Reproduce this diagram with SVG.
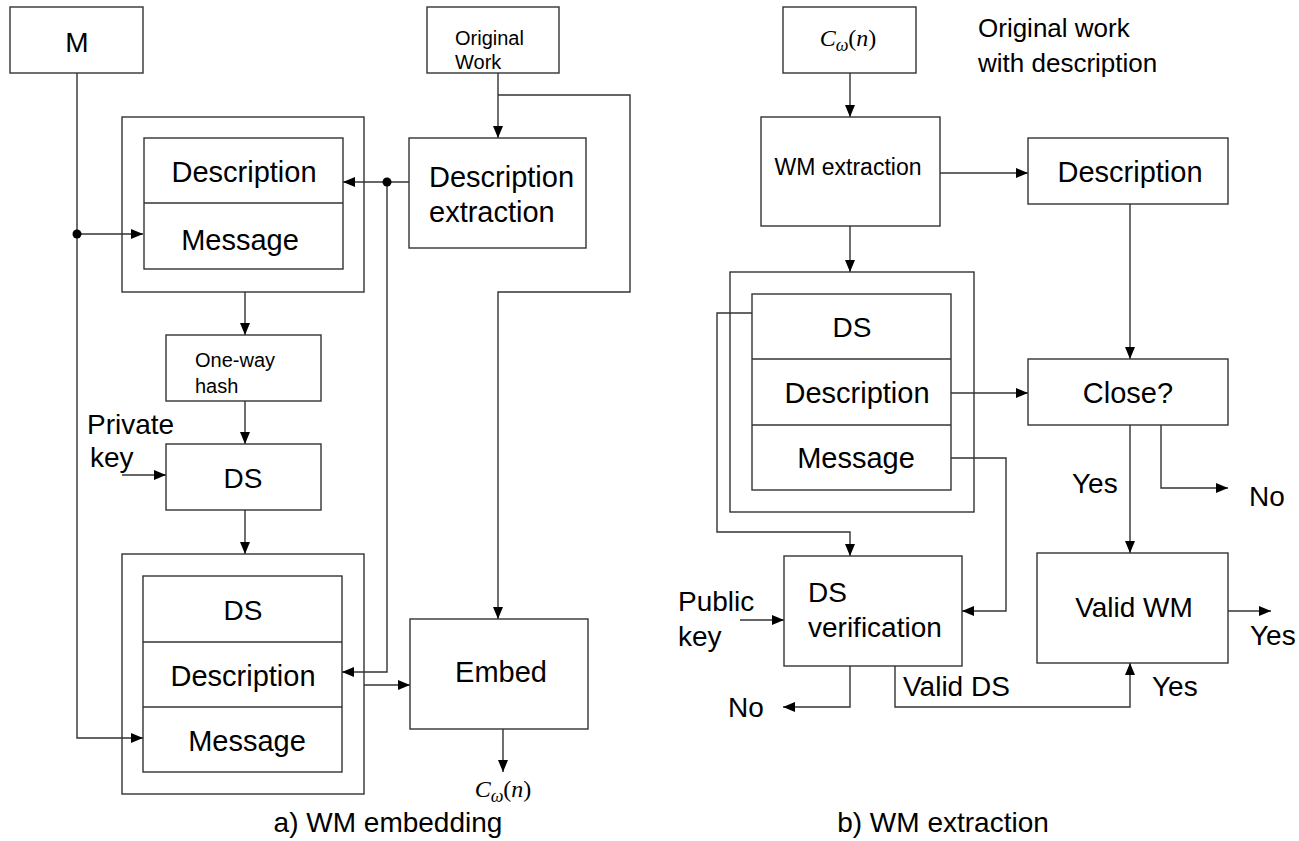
<svg xmlns="http://www.w3.org/2000/svg" width="1299" height="841" viewBox="0 0 1299 841">
<defs>
<marker id="ah" viewBox="0 0 12 10" refX="12" refY="5" markerWidth="12" markerHeight="10" markerUnits="userSpaceOnUse" orient="auto">
<path d="M0,0 L12,5 L0,10 Z" fill="#000"/>
</marker>
<style>
.b{fill:#fff;stroke:#333;stroke-width:1.4}
.c{fill:none;stroke:#333;stroke-width:1.4}
.t{font-family:"Liberation Sans",Arial,sans-serif;fill:#000}
.m{font-family:"Liberation Serif","Times New Roman",serif;fill:#000;font-size:24px}
.a{marker-end:url(#ah)}
</style>
</defs>
<rect width="1299" height="841" fill="#fff"/>

<!-- connectors -->
<g id="connectors">
<path class="c a" d="M77,73 V738 H143"/>
<path class="c a" d="M77,234 H143"/>
<circle cx="77" cy="234" r="4.5" fill="#000"/>
<path class="c a" d="M498,73 V138"/>
<path class="c a" d="M498,95 H630 V292 H498 V619"/>
<path class="c a" d="M409,182 H343"/>
<path class="c a" d="M387,182 V672 H342"/>
<circle cx="387" cy="182" r="4.5" fill="#000"/>
<path class="c a" d="M245,292 V335"/>
<path class="c a" d="M245,401 V444"/>
<path class="c a" d="M245,510 V554"/>
<path class="c a" d="M122,475 H166"/>
<path class="c a" d="M364,685 H410"/>
<path class="c a" d="M503,729 V772"/>

<path class="c a" d="M850,73 V117"/>
<path class="c a" d="M940,173 H1028"/>
<path class="c a" d="M850,226 V272"/>
<path class="c a" d="M1130,204 V359"/>
<path class="c a" d="M752,313 H717 V532 H850 V556"/>
<path class="c a" d="M951,393 H1028"/>
<path class="c a" d="M951,458 H1006 V611 H962"/>
<path class="c a" d="M1130,425 V553"/>
<path class="c a" d="M1161,425 V488 H1228"/>
<path class="c a" d="M740,620 H784"/>
<path class="c a" d="M850,666 V707 H783"/>
<path class="c a" d="M895,666 V707 H1130 V663"/>
<path class="c a" d="M1228,611 H1271"/>
</g>

<!-- left panel nodes -->
<g id="M">
<rect class="b" x="10" y="7" width="133" height="66"/>
<text class="t" x="77" y="52" font-size="28" text-anchor="middle">M</text>
</g>
<g id="original-work">
<rect class="b" x="427" y="7" width="132" height="66"/>
<text class="t" x="455" y="45" font-size="20">Original</text>
<text class="t" x="455" y="69" font-size="20">Work</text>
</g>
<g id="desc-extraction">
<rect class="b" x="409" y="138" width="177" height="110"/>
<text class="t" x="429" y="187" font-size="29">Description</text>
<text class="t" x="429" y="222" font-size="29">extraction</text>
</g>
<g id="group-top">
<rect class="c" x="122" y="117" width="242" height="175"/>
<rect class="b" x="144" y="138" width="199" height="131"/>
<line class="c" x1="144" y1="203" x2="343" y2="203"/>
<text class="t" x="244" y="182" font-size="29" text-anchor="middle">Description</text>
<text class="t" x="240" y="250" font-size="29" text-anchor="middle">Message</text>
</g>
<g id="one-way-hash">
<rect class="b" x="166" y="335" width="155" height="66"/>
<text class="t" x="195" y="367" font-size="20">One-way</text>
<text class="t" x="195" y="393" font-size="20">hash</text>
</g>
<g id="private-key">
<text class="t" x="87" y="434" font-size="28">Private</text>
<text class="t" x="90" y="467" font-size="28">key</text>
</g>
<g id="DS-left">
<rect class="b" x="166" y="444" width="155" height="66"/>
<text class="t" x="243" y="488" font-size="28" text-anchor="middle">DS</text>
</g>
<g id="group-bottom">
<rect class="c" x="122" y="554" width="242" height="240"/>
<rect class="b" x="143" y="576" width="199" height="196"/>
<line class="c" x1="143" y1="642" x2="342" y2="642"/>
<line class="c" x1="143" y1="707" x2="342" y2="707"/>
<text class="t" x="243" y="620" font-size="28" text-anchor="middle">DS</text>
<text class="t" x="243" y="686" font-size="29" text-anchor="middle">Description</text>
<text class="t" x="247" y="751" font-size="29" text-anchor="middle">Message</text>
</g>
<g id="embed">
<rect class="b" x="410" y="619" width="178" height="110"/>
<text class="t" x="501" y="682" font-size="29" text-anchor="middle">Embed</text>
</g>
<g id="cw-out">
<text class="m" x="503" y="797" text-anchor="middle"><tspan font-style="italic">C</tspan><tspan font-style="italic" font-size="18" dy="5">ω</tspan><tspan dy="-5">(</tspan><tspan font-style="italic">n</tspan>)</text>
</g>
<text class="t" x="388" y="832" font-size="28" text-anchor="middle">a) WM embedding</text>

<!-- right panel nodes -->
<g id="cw-in">
<rect class="b" x="783" y="7" width="133" height="66"/>
<text class="m" x="848" y="46" text-anchor="middle"><tspan font-style="italic">C</tspan><tspan font-style="italic" font-size="18" dy="5">ω</tspan><tspan dy="-5">(</tspan><tspan font-style="italic">n</tspan>)</text>
</g>
<g id="orig-desc-label">
<text class="t" x="978" y="37" font-size="26">Original work</text>
<text class="t" x="978" y="72" font-size="26">with description</text>
</g>
<g id="wm-extraction">
<rect class="b" x="761" y="117" width="179" height="109"/>
<text class="t" x="848" y="175" font-size="23" text-anchor="middle">WM extraction</text>
</g>
<g id="description-r">
<rect class="b" x="1028" y="138" width="200" height="66"/>
<text class="t" x="1130" y="182" font-size="29" text-anchor="middle">Description</text>
</g>
<g id="group-r">
<rect class="c" x="730" y="272" width="244" height="240"/>
<rect class="b" x="752" y="294" width="199" height="196"/>
<line class="c" x1="752" y1="359" x2="951" y2="359"/>
<line class="c" x1="752" y1="425" x2="951" y2="425"/>
<text class="t" x="852" y="337" font-size="28" text-anchor="middle">DS</text>
<text class="t" x="857" y="403" font-size="29" text-anchor="middle">Description</text>
<text class="t" x="856" y="468" font-size="29" text-anchor="middle">Message</text>
</g>
<g id="close">
<rect class="b" x="1028" y="359" width="200" height="66"/>
<text class="t" x="1128" y="403" font-size="29" text-anchor="middle">Close?</text>
</g>
<g id="labels-r">
<text class="t" x="1072" y="493" font-size="28">Yes</text>
<text class="t" x="1249" y="506" font-size="28">No</text>
<text class="t" x="678" y="611" font-size="28">Public</text>
<text class="t" x="678" y="646" font-size="28">key</text>
<text class="t" x="728" y="717" font-size="28">No</text>
<text class="t" x="903" y="696" font-size="28">Valid DS</text>
<text class="t" x="1152" y="696" font-size="28">Yes</text>
<text class="t" x="1250" y="645" font-size="28">Yes</text>
</g>
<g id="ds-verification">
<rect class="b" x="784" y="556" width="178" height="110"/>
<text class="t" x="808" y="602" font-size="28">DS</text>
<text class="t" x="808" y="637" font-size="28">verification</text>
</g>
<g id="valid-wm">
<rect class="b" x="1037" y="553" width="191" height="110"/>
<text class="t" x="1134" y="617" font-size="28" text-anchor="middle">Valid WM</text>
</g>
<text class="t" x="943" y="832" font-size="28" text-anchor="middle">b) WM extraction</text>
</svg>
